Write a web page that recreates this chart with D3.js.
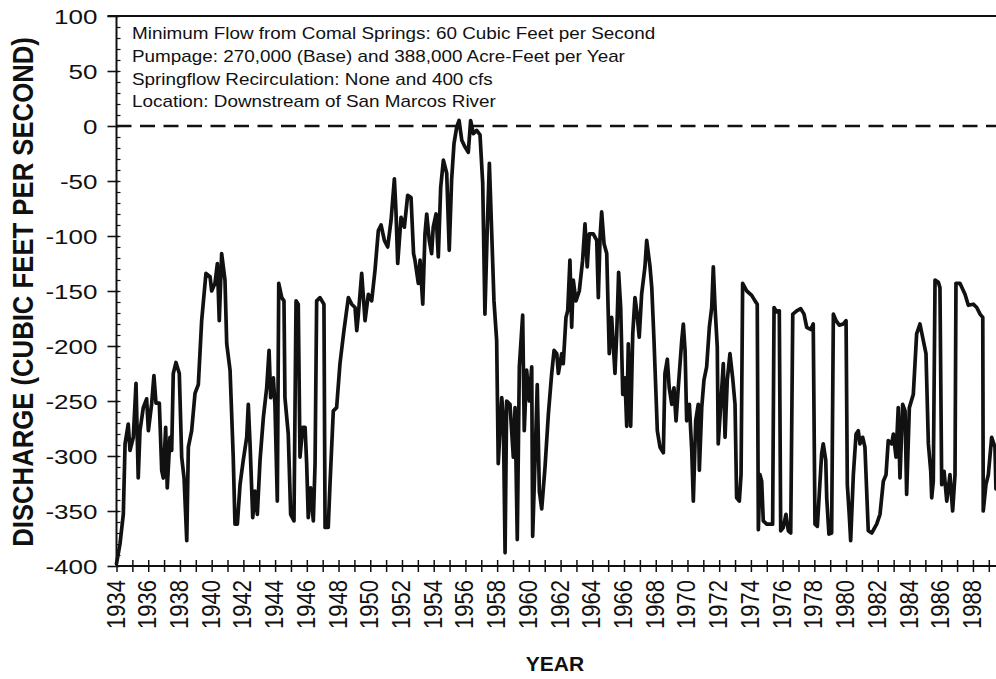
<!DOCTYPE html>
<html>
<head>
<meta charset="utf-8">
<script src="https://cdn.jsdelivr.net/npm/d3@7"></script>
<style>
  html, body { margin: 0; padding: 0; background: #fff; }
  svg { display: block; }
  text { font-family: "Liberation Sans", Arial, sans-serif; fill: #111; }
</style>
</head>
<body>
<svg id="chart" width="996" height="679"></svg>
<script>
// Simulated discharge below Comal Springs, 1934-1989 (cfs)
const years = [
  1934.00, 1934.22, 1934.43, 1934.54, 1934.74, 1934.85, 1935.06, 1935.23, 1935.37, 1935.48,
  1935.69, 1935.90, 1936.01, 1936.22, 1936.36, 1936.49, 1936.70, 1936.85, 1936.95, 1937.10,
  1937.20, 1937.37, 1937.48, 1937.58, 1937.75, 1937.96, 1938.11, 1938.26, 1938.43, 1938.53,
  1938.74, 1938.95, 1939.16, 1939.37, 1939.64, 1939.90, 1940.00, 1940.21, 1940.36, 1940.48,
  1940.63, 1940.84, 1940.95, 1941.16, 1941.36, 1941.47, 1941.62, 1941.79, 1941.99, 1942.21,
  1942.31, 1942.42, 1942.59, 1942.73, 1942.88, 1943.05, 1943.26, 1943.47, 1943.62, 1943.72,
  1943.89, 1943.99, 1944.14, 1944.23, 1944.42, 1944.56, 1944.62, 1944.83, 1944.98, 1945.19,
  1945.32, 1945.46, 1945.57, 1945.74, 1945.89, 1945.99, 1946.09, 1946.24, 1946.41, 1946.52,
  1946.62, 1946.83, 1947.08, 1947.15, 1947.35, 1947.46, 1947.67, 1947.88, 1948.09, 1948.34,
  1948.62, 1948.83, 1949.04, 1949.15, 1949.25, 1949.46, 1949.67, 1949.88, 1950.09, 1950.30,
  1950.51, 1950.68, 1950.89, 1951.10, 1951.31, 1951.52, 1951.62, 1951.73, 1951.94, 1952.15,
  1952.36, 1952.57, 1952.73, 1952.82, 1953.03, 1953.14, 1953.31, 1953.45, 1953.56, 1953.72,
  1953.87, 1953.97, 1954.15, 1954.29, 1954.44, 1954.61, 1954.82, 1954.98, 1955.13, 1955.28,
  1955.45, 1955.60, 1955.77, 1955.97, 1956.18, 1956.33, 1956.50, 1956.71, 1956.92, 1957.09,
  1957.23, 1957.38, 1957.51, 1957.66, 1957.80, 1957.97, 1958.02, 1958.07, 1958.29, 1958.39,
  1958.50, 1958.60, 1958.81, 1959.02, 1959.13, 1959.27, 1959.40, 1959.61, 1959.71, 1959.86,
  1960.03, 1960.18, 1960.24, 1960.39, 1960.53, 1960.66, 1960.81, 1961.02, 1961.23, 1961.44,
  1961.59, 1961.76, 1961.86, 1962.07, 1962.17, 1962.34, 1962.45, 1962.59, 1962.70, 1962.80,
  1962.97, 1963.18, 1963.39, 1963.54, 1963.68, 1963.81, 1964.06, 1964.28, 1964.38, 1964.49,
  1964.59, 1964.74, 1964.91, 1965.07, 1965.22, 1965.43, 1965.54, 1965.66, 1965.79, 1965.92,
  1966.06, 1966.17, 1966.27, 1966.42, 1966.55, 1966.69, 1966.80, 1966.96, 1967.11, 1967.32,
  1967.43, 1967.64, 1967.75, 1967.89, 1968.10, 1968.27, 1968.48, 1968.58, 1968.73, 1968.85,
  1969.01, 1969.15, 1969.28, 1969.42, 1969.64, 1969.74, 1969.85, 1969.95, 1970.12, 1970.27,
  1970.37, 1970.52, 1970.68, 1970.75, 1970.90, 1971.04, 1971.21, 1971.38, 1971.53, 1971.63,
  1971.74, 1971.88, 1971.94, 1972.10, 1972.26, 1972.37, 1972.51, 1972.68, 1972.85, 1973.00,
  1973.10, 1973.27, 1973.38, 1973.48, 1973.74, 1974.05, 1974.26, 1974.40, 1974.47, 1974.57,
  1974.68, 1974.78, 1975.00, 1975.20, 1975.37, 1975.46, 1975.63, 1975.79, 1975.88, 1976.04,
  1976.21, 1976.36, 1976.51, 1976.64, 1976.89, 1977.14, 1977.35, 1977.52, 1977.77, 1977.93,
  1978.04, 1978.19, 1978.31, 1978.46, 1978.56, 1978.72, 1978.78, 1978.92, 1979.09, 1979.20,
  1979.37, 1979.57, 1979.83, 1980.00, 1980.08, 1980.20, 1980.29, 1980.46, 1980.63, 1980.77,
  1980.88, 1981.05, 1981.19, 1981.40, 1981.62, 1981.93, 1982.14, 1982.35, 1982.52, 1982.66,
  1982.88, 1982.98, 1983.15, 1983.29, 1983.40, 1983.57, 1983.72, 1983.82, 1983.99, 1984.24,
  1984.45, 1984.66, 1984.87, 1985.04, 1985.19, 1985.34, 1985.40, 1985.50, 1985.61, 1985.82,
  1985.92, 1986.03, 1986.18, 1986.35, 1986.55, 1986.72, 1986.87, 1986.93, 1987.18, 1987.50,
  1987.71, 1988.02, 1988.24, 1988.45, 1988.62, 1988.65, 1988.82, 1988.97, 1989.18, 1989.39,
  1989.45
];
const discharge = [
  -398, -380, -353, -289, -271, -295, -283, -234, -320, -277,
  -256, -248, -277, -252, -227, -252, -252, -313, -320, -274,
  -329, -283, -295, -225, -215, -225, -301, -320, -377, -292,
  -277, -243, -235, -177, -134, -137, -150, -143, -125, -177,
  -116, -140, -198, -222, -301, -362, -362, -326, -304, -283,
  -253, -289, -356, -332, -353, -304, -265, -238, -204, -247,
  -229, -253, -341, -143, -156, -159, -247, -280, -353, -359,
  -159, -162, -301, -274, -274, -307, -356, -329, -359, -307,
  -159, -156, -162, -365, -365, -326, -259, -256, -216, -186,
  -156, -162, -165, -186, -171, -134, -177, -153, -159, -131,
  -95, -90, -104, -110, -86, -48, -77, -125, -83, -92,
  -63, -65, -116, -122, -143, -122, -162, -98, -80, -104,
  -116, -92, -80, -119, -56, -31, -43, -113, -49, -16,
  -1, 5, -13, -19, -24, 5, -7, -4, -8, -52,
  -171, -92, -34, -98, -159, -195, -250, -307, -247, -265,
  -388, -250, -253, -301, -256, -376, -219, -172, -277, -222,
  -250, -219, -373, -304, -235, -332, -348, -310, -262, -225,
  -204, -207, -225, -207, -216, -174, -168, -122, -183, -140,
  -159, -150, -122, -89, -128, -98, -98, -104, -156, -101,
  -78, -107, -116, -207, -174, -225, -189, -133, -165, -244,
  -229, -273, -198, -273, -189, -156, -168, -192, -153, -128,
  -104, -128, -147, -195, -277, -292, -297, -225, -212, -238,
  -253, -238, -268, -238, -195, -180, -204, -268, -253, -295,
  -341, -268, -253, -313, -256, -231, -219, -183, -165, -128,
  -165, -201, -289, -253, -216, -283, -231, -207, -229, -253,
  -338, -341, -317, -143, -150, -154, -159, -162, -367, -317,
  -323, -359, -362, -362, -362, -165, -169, -168, -368, -365,
  -353, -368, -370, -171, -168, -166, -171, -183, -185, -180,
  -362, -364, -335, -298, -289, -304, -338, -371, -370, -171,
  -177, -181, -180, -177, -326, -353, -377, -317, -280, -277,
  -289, -283, -292, -368, -370, -362, -353, -323, -317, -286,
  -289, -280, -301, -256, -320, -253, -259, -335, -256, -244,
  -189, -180, -195, -207, -289, -314, -338, -323, -140, -142,
  -147, -326, -314, -341, -317, -350, -317, -143, -143, -153,
  -163, -162, -165, -171, -174, -350, -326, -317, -283, -292,
  -330
];

const yTickValues = [100, 50, 0, -50, -100, -150, -200, -250, -300, -350, -400];
const xTickLabels = d3.range(1934, 1989, 2);
const notes = [
  "Minimum Flow from Comal Springs: 60 Cubic Feet per Second",
  "Pumpage: 270,000 (Base) and 388,000 Acre-Feet per Year",
  "Springflow Recirculation: None and 400 cfs",
  "Location: Downstream of San Marcos River"
];
const yTitle = "DISCHARGE (CUBIC FEET PER SECOND)";
const xTitle = "YEAR";

const W = 996, H = 679;
const plot = { left: 116.5, top: 16, bottom: 566 };

const x = d3.scaleLinear().domain([1934, 1990]).range([plot.left, plot.left + 56 * 15.86]);
const y = d3.scaleLinear().domain([-400, 100]).range([plot.bottom, plot.top]);

const svg = d3.select("#chart");

// frame: top border and axis lines
svg.append("line")
  .attr("x1", plot.left - 9).attr("x2", W)
  .attr("y1", y(100)).attr("y2", y(100))
  .attr("stroke", "#111").attr("stroke-width", 2);

// y axis: major ticks outside, minor ticks inside
const yAxisMajor = d3.axisLeft(y).tickValues(yTickValues).tickSize(9).tickFormat("");
const gy = svg.append("g").attr("transform", `translate(${plot.left},0)`).call(yAxisMajor);
gy.select(".domain").remove();
gy.selectAll(".tick line").attr("stroke", "#111").attr("stroke-width", 1.6).attr("x2", -9).attr("x1", 2);

const yAxisMinor = d3.axisRight(y).tickValues(d3.range(-400, 101, 10)).tickSize(4).tickFormat("");
const gym = svg.append("g").attr("transform", `translate(${plot.left},0)`).call(yAxisMinor);
gym.select(".domain").remove();
gym.selectAll(".tick line").attr("stroke", "#111").attr("stroke-width", 1.2);

svg.append("line")
  .attr("x1", plot.left).attr("x2", plot.left)
  .attr("y1", y(100)).attr("y2", y(-400))
  .attr("stroke", "#111").attr("stroke-width", 2);

// y tick labels, right-aligned beside the axis
svg.append("g").selectAll("text")
  .data(yTickValues)
  .join("text")
  .attr("transform", d => `translate(${plot.left - 19},${y(d) + 7.5}) scale(1.24,1)`)
  .attr("text-anchor", "end")
  .attr("font-size", 21)
  .text(d => d);

// x axis: a tick every year, crossing the axis line
const xAxis = d3.axisBottom(x).tickValues(d3.range(1934, 1990, 1)).tickSize(6).tickFormat("");
const gx = svg.append("g").attr("transform", `translate(0,${plot.bottom})`).call(xAxis);
gx.select(".domain").remove();
gx.selectAll(".tick line").attr("y1", -6).attr("y2", 6).attr("stroke", "#111").attr("stroke-width", 1.5);

svg.append("line")
  .attr("x1", plot.left).attr("x2", W)
  .attr("y1", plot.bottom).attr("y2", plot.bottom)
  .attr("stroke", "#111").attr("stroke-width", 2);

// rotated year labels
svg.append("g").selectAll("text")
  .data(xTickLabels)
  .join("text")
  .attr("transform", d => `translate(${x(d) + 8},${plot.bottom + 14}) scale(1.15,1) rotate(-90)`)
  .attr("text-anchor", "end")
  .attr("font-size", 22)
  .text(d => d);

// zero reference line
svg.append("line")
  .attr("x1", plot.left).attr("x2", W)
  .attr("y1", y(0)).attr("y2", y(0))
  .attr("stroke", "#111").attr("stroke-width", 2.5)
  .attr("stroke-dasharray", "15,8.5");

// discharge series
const series = years.map((yr, i) => ({ yr, q: discharge[i] }));
const line = d3.line().x(d => x(d.yr)).y(d => y(d.q));
svg.append("path")
  .datum(series)
  .attr("d", line)
  .attr("fill", "none")
  .attr("stroke", "#111")
  .attr("stroke-width", 3.7)
  .attr("stroke-linejoin", "round")
  .attr("stroke-linecap", "round");

// scenario notes
svg.append("g").selectAll("text")
  .data(notes)
  .join("text")
  .attr("transform", (d, i) => `translate(132,${39 + i * 22.8}) scale(1.18,1)`)
  .attr("font-size", 16)
  .text(d => d);

// axis titles
svg.append("text")
  .attr("transform", `translate(33,${292}) scale(1.15,1) rotate(-90)`)
  .attr("text-anchor", "middle")
  .attr("font-size", 25.7)
  .attr("font-weight", "bold")
  .text(yTitle);

svg.append("text")
  .attr("x", 555).attr("y", 671)
  .attr("text-anchor", "middle")
  .attr("font-size", 21)
  .attr("font-weight", "bold")
  .text(xTitle);
</script>
</body>
</html>
